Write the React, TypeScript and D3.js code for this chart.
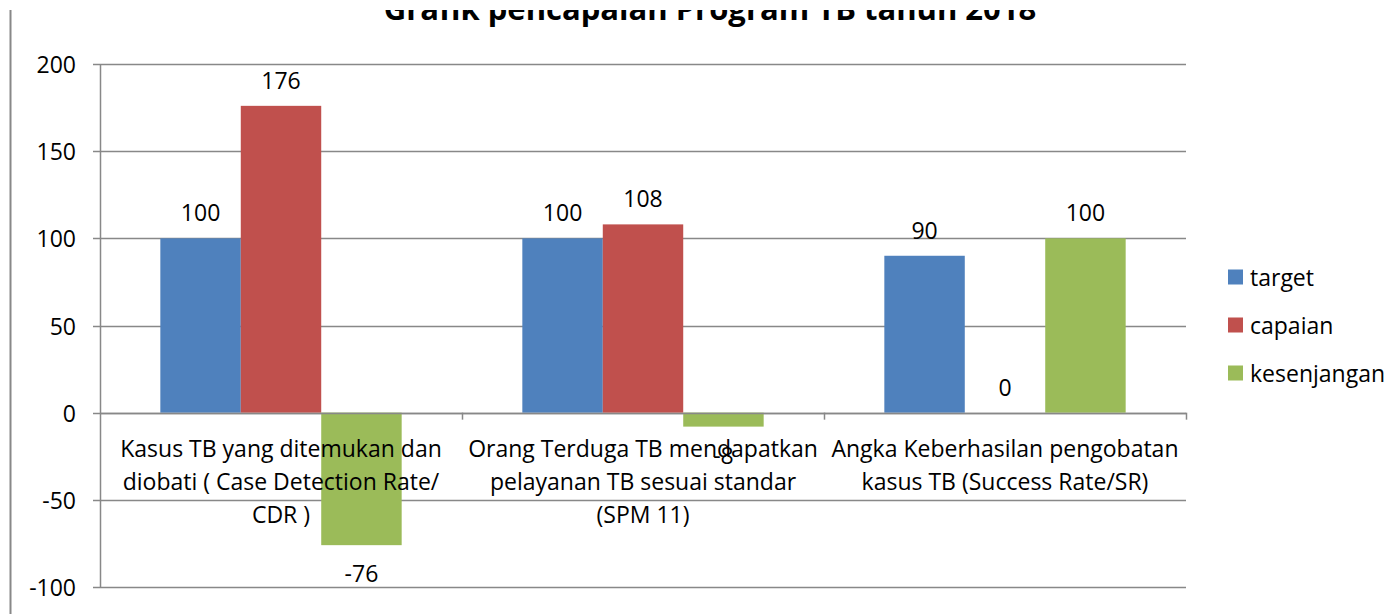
import React from "react";
import * as d3 from "d3";

const title = "Grafik pencapaian Program TB tahun 2018";
const categories = ["cdr", "spm", "sr"];
const categoryLines = [
  ["Kasus TB yang ditemukan dan", "diobati ( Case Detection Rate/", "CDR )"],
  ["Orang Terduga TB mendapatkan", "pelayanan TB sesuai standar", "(SPM 11)"],
  ["Angka Keberhasilan pengobatan", "kasus TB (Success Rate/SR)"],
];
const seriesNames = ["target", "capaian", "kesenjangan"];
const target = [100, 100, 90];
const capaian = [176, 108, 0];
const kesenjangan = [-76, -8, 100];
const yTicks = [-100, -50, 0, 50, 100, 150, 200];

const colors = {
  target: "#4F81BD",
  capaian: "#C0504D",
  kesenjangan: "#9BBB59",
};

const W = 1389;
const H = 614;
const font = "'Open Sans', 'Noto Sans', sans-serif";
const fs = 23;
const grid = "#888888";

export default function App() {
  const values = { target, capaian, kesenjangan };

  const y = d3.scaleLinear().domain([-100, 200]).range([587, 64]);
  const x0 = d3.scaleBand().domain(categories).range([100, 1186]);
  const x1 = d3
    .scaleBand()
    .domain(seriesNames)
    .range([0, x0.bandwidth()])
    .paddingOuter(0.75);

  const bars = [];
  categories.forEach((c, i) => {
    seriesNames.forEach((s) => {
      bars.push({ c, s, v: values[s][i] });
    });
  });

  return (
    <div style={{ position: "absolute", left: 0, top: 0 }}>
      <svg width={W} height={H} style={{ display: "block", background: "#fff" }}>
        <defs>
          {/* the picture is cropped just above the title's baseline area */}
          <clipPath id="crop">
            <rect x={0} y={10} width={W} height={H - 10} />
          </clipPath>
        </defs>
        <g clipPath="url(#crop)">
          {/* outer frame line on the left */}
          <line x1={10.5} x2={10.5} y1={0} y2={H} stroke={grid} strokeWidth={2} />

          {/* title */}
          <text
            x={710}
            y={20}
            textAnchor="middle"
            fontFamily={font}
            fontWeight="bold"
            fontSize={31}
          >
            {title}
          </text>
        </g>

        {/* gridlines + y labels */}
        {yTicks.map((t) => (
          <g key={t}>
            <line
              x1={93}
              x2={1186}
              y1={Math.round(y(t)) + 0.5}
              y2={Math.round(y(t)) + 0.5}
              stroke={grid}
              strokeWidth={1.5}
            />
            <text
              x={76}
              y={y(t)}
              textAnchor="end"
              dominantBaseline="central"
              fontFamily={font}
              fontSize={fs}
            >
              {t}
            </text>
          </g>
        ))}
        <line x1={100.5} x2={100.5} y1={y(200)} y2={y(-100)} stroke={grid} strokeWidth={1.5} />

        {/* bars */}
        {bars.map((b, i) => (
          <rect
            key={i}
            x={x0(b.c) + x1(b.s)}
            width={x1.bandwidth()}
            y={y(Math.max(0, b.v))}
            height={Math.abs(y(b.v) - y(0))}
            fill={colors[b.s]}
          />
        ))}

        {/* category axis at zero */}
        <line x1={100} x2={1186} y1={Math.round(y(0)) + 0.5} y2={Math.round(y(0)) + 0.5} stroke={grid} strokeWidth={1.5} />
        {categories.map((c) => (
          <line
            key={c}
            x1={x0(c) + x0.bandwidth() + 0.5}
            x2={x0(c) + x0.bandwidth() + 0.5}
            y1={y(0)}
            y2={y(0) + 7}
            stroke={grid}
            strokeWidth={1.5}
          />
        ))}

        {/* value labels */}
        {bars.map((b, i) => (
          <text
            key={i}
            x={x0(b.c) + x1(b.s) + x1.bandwidth() / 2}
            y={b.v >= 0 ? y(b.v) - 26 : y(b.v) + 28}
            textAnchor="middle"
            dominantBaseline="central"
            fontFamily={font}
            fontSize={fs}
          >
            {b.v}
          </text>
        ))}

        {/* category labels */}
        {categories.map((c, i) => (
          <text
            key={c}
            textAnchor="middle"
            fontFamily={font}
            fontSize={fs}
            dominantBaseline="central"
          >
            {categoryLines[i].map((line, j) => (
              <tspan key={j} x={x0(c) + x0.bandwidth() / 2} y={448 + j * 33}>
                {line}
              </tspan>
            ))}
          </text>
        ))}

        {/* legend */}
        {seriesNames.map((s, i) => (
          <g key={s} transform={`translate(1228, ${277 + i * 48})`}>
            <rect x={0} y={-7.5} width={15} height={15} fill={colors[s]} />
            <text x={22} y={0} dominantBaseline="central" fontFamily={font} fontSize={fs}>
              {s}
            </text>
          </g>
        ))}
      </svg>
    </div>
  );
}
